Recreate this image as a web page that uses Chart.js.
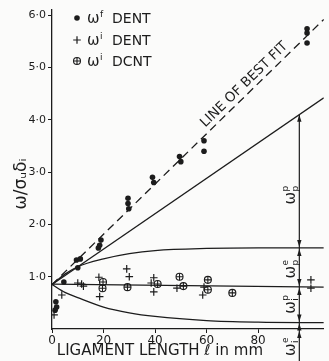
<!DOCTYPE html>
<html lang="en">
<head>
<meta charset="UTF-8" />
<title>Work of fracture against ligament length</title>
<script src="https://cdn.jsdelivr.net/npm/chart.js"></script>
<style>
  body { margin: 0; background: #fbfbfa; }
  canvas { display: block; }
</style>
</head>
<body>
<canvas id="fig" width="329" height="361"></canvas>
<script>
const ink = "#1c1c1c";
const fontFamily = '"DejaVu Sans", "Liberation Sans", sans-serif';

const xTicks = [0, 20, 40, 60, 80];
const yTicks = [1, 2, 3, 4, 5, 6];

// w^f DENT (solid dots)
const wfDentX = [1.5, 1.8, 1.2, 4.6, 9.5, 11, 10, 19, 18.5, 18, 29.5, 29.5, 29.8, 39, 39.5, 49.5, 50, 59, 59, 99, 99, 99];
const wfDentY = [0.52, 0.42, 0.36, 0.9, 1.32, 1.34, 1.17, 1.7, 1.6, 1.55, 2.5, 2.4, 2.3, 2.9, 2.8, 3.3, 3.2, 3.6, 3.4, 5.74, 5.66, 5.47];

// w^i DENT (plus)
const wiDentX = [0.8, 3.8, 10, 11.5, 12.2, 18.2, 18.5, 29, 30, 39.5, 38.5, 39.5, 48.5, 59, 58.5, 100.5, 100.5];
const wiDentY = [0.27, 0.65, 0.88, 0.86, 0.82, 0.99, 0.62, 1.15, 1.0, 0.98, 0.88, 0.71, 0.78, 0.8, 0.65, 0.94, 0.78];

// w^i DCNT (circle with cross)
const wiDcntX = [19.8, 19.6, 29.3, 41, 49.5, 51, 60.5, 60.5, 70];
const wiDcntY = [0.9, 0.78, 0.8, 0.86, 1.0, 0.82, 0.94, 0.75, 0.69];

// drawn lines
const bestFitX = [0, 105.5];
const bestFitY = [0.85, 5.92];
const upperLineX = [0, 105.5];
const upperLineY = [0.85, 4.42];
const curveX = [0, 5, 10, 20, 30, 40, 60, 80, 105.5];
const plateauY = [0.85, 1.05, 1.19, 1.34, 1.44, 1.5, 1.54, 1.55, 1.55];
const lowerY = [0.85, 0.7, 0.6, 0.42, 0.31, 0.24, 0.16, 0.13, 0.12];
const midLineX = [0, 105.5];
const midLineY = [0.86, 0.8];

const bracketX = 96;
const bracketLabels = [["p", "p"], ["e", "p"], ["p", "i"], ["e", "i"]];

function pts(xs, ys) {
  return xs.map((x, i) => ({ x: x, y: ys[i] }));
}

function interp(xs, ys, x) {
  for (let i = 1; i < xs.length; i++) {
    if (x <= xs[i]) {
      const t = (x - xs[i - 1]) / (xs[i] - xs[i - 1]);
      return ys[i - 1] + t * (ys[i] - ys[i - 1]);
    }
  }
  return ys[ys.length - 1];
}

function lineSet(xs, ys, dash, smooth) {
  return {
    data: pts(xs, ys),
    showLine: true,
    borderColor: ink,
    borderWidth: 1.3,
    borderDash: dash || [],
    pointRadius: 0,
    tension: smooth ? 0.4 : 0,
    cubicInterpolationMode: smooth ? "monotone" : "default"
  };
}

// omega with super/subscript, optionally turned to read upwards
function drawOmega(ctx, x, y, sup, sub, size, upright) {
  ctx.save();
  ctx.translate(x, y);
  if (!upright) ctx.rotate(-Math.PI / 2);
  ctx.fillStyle = ink;
  ctx.textBaseline = "alphabetic";
  ctx.textAlign = "left";
  ctx.font = size + "px " + fontFamily;
  const w = ctx.measureText("ω").width;
  const small = Math.round(size * 0.62);
  ctx.font = small + "px " + fontFamily;
  const sw = Math.max(ctx.measureText(sup).width, ctx.measureText(sub || "").width);
  const x0 = upright ? 0 : -(w + sw) / 2;
  const base = size * 0.35;
  ctx.font = size + "px " + fontFamily;
  ctx.fillText("ω", x0, base);
  ctx.font = small + "px " + fontFamily;
  ctx.fillText(sup, x0 + w + 0.5, base - size * 0.42);
  if (sub) ctx.fillText(sub, x0 + w + 0.5, base + size * 0.22);
  ctx.restore();
}

function arrowHead(ctx, x, y, dir) {
  // dir = -1 points up, +1 points down; tip at (x, y)
  ctx.beginPath();
  ctx.moveTo(x, y);
  ctx.lineTo(x - 2.2, y - dir * 7);
  ctx.lineTo(x + 2.2, y - dir * 7);
  ctx.closePath();
  ctx.fill();
}

const annotations = {
  id: "annotations",
  afterDatasetsDraw(chart) {
    const { ctx, chartArea, scales } = chart;
    const xs = scales.x, ys = scales.y;
    ctx.save();
    ctx.fillStyle = ink;
    ctx.strokeStyle = ink;

    // y axis title
    ctx.save();
    ctx.translate(22, 184);
    ctx.rotate(-Math.PI / 2);
    ctx.font = "17px " + fontFamily;
    ctx.textAlign = "center";
    ctx.textBaseline = "middle";
    ctx.fillText("ω/σᵤδᵢ", 0, 0);
    ctx.restore();

    // legend
    const lx = chartArea.left + 25;
    const rows = [chartArea.top + 8, chartArea.top + 30, chartArea.top + 51];
    ctx.beginPath();
    ctx.arc(lx, rows[0], 2.8, 0, Math.PI * 2);
    ctx.fill();
    ctx.lineWidth = 1.2;
    ctx.beginPath();
    ctx.moveTo(lx - 3.8, rows[1]); ctx.lineTo(lx + 3.8, rows[1]);
    ctx.moveTo(lx, rows[1] - 3.8); ctx.lineTo(lx, rows[1] + 3.8);
    ctx.stroke();
    ctx.lineWidth = 1.1;
    ctx.beginPath();
    ctx.arc(lx, rows[2], 3.5, 0, Math.PI * 2);
    ctx.moveTo(lx - 3.5, rows[2]); ctx.lineTo(lx + 3.5, rows[2]);
    ctx.moveTo(lx, rows[2] - 3.5); ctx.lineTo(lx, rows[2] + 3.5);
    ctx.stroke();
    const names = [["f", "DENT"], ["i", "DENT"], ["i", "DCNT"]];
    names.forEach((n, i) => {
      drawOmega(ctx, lx + 10, rows[i], n[0], null, 15, true);
      ctx.font = "14px " + fontFamily;
      ctx.textBaseline = "middle";
      ctx.textAlign = "left";
      ctx.fillText(n[1], lx + 35, rows[i] + 1);
    });

    // line of best fit label
    const p0 = { x: xs.getPixelForValue(bestFitX[0]), y: ys.getPixelForValue(bestFitY[0]) };
    const p1 = { x: xs.getPixelForValue(bestFitX[1]), y: ys.getPixelForValue(bestFitY[1]) };
    const ang = Math.atan2(p1.y - p0.y, p1.x - p0.x);
    const lxv = 77;
    ctx.save();
    ctx.translate(xs.getPixelForValue(lxv), ys.getPixelForValue(interp(bestFitX, bestFitY, lxv)));
    ctx.rotate(ang);
    ctx.font = "13.5px " + fontFamily;
    ctx.textAlign = "center";
    ctx.textBaseline = "bottom";
    ctx.fillText("LINE OF BEST FIT", 0, -2);
    ctx.restore();

    // bracket on the right
    const bx = xs.getPixelForValue(bracketX);
    const levels = [
      interp(upperLineX, upperLineY, bracketX),
      interp(curveX, plateauY, bracketX),
      interp(midLineX, midLineY, bracketX),
      interp(curveX, lowerY, bracketX),
      0
    ].map(v => ys.getPixelForValue(v));
    ctx.lineWidth = 1.2;
    ctx.beginPath();
    ctx.moveTo(bx, levels[0]);
    ctx.lineTo(bx, chart.height);
    ctx.stroke();
    arrowHead(ctx, bx, levels[0], -1);
    for (let i = 1; i < 4; i++) {
      arrowHead(ctx, bx, levels[i] - 1, 1);
      arrowHead(ctx, bx, levels[i] + 1, -1);
    }
    arrowHead(ctx, bx, levels[4] + 2, -1);
    const mids = [
      (levels[0] + levels[1]) / 2 + 14,
      (levels[1] + levels[2]) / 2 + 2,
      (levels[2] + levels[3]) / 2,
      levels[4] + 18
    ];
    bracketLabels.forEach((l, i) => drawOmega(ctx, bx - 10, mids[i], l[0], l[1], 15, false));
    ctx.restore();
  }
};

new Chart(document.getElementById("fig"), {
  type: "scatter",
  data: {
    datasets: [
      lineSet(bestFitX, bestFitY, [8, 5]),
      lineSet(upperLineX, upperLineY),
      lineSet(curveX, plateauY, null, true),
      lineSet(midLineX, midLineY),
      lineSet(curveX, lowerY, null, true),
      { label: "wf DENT", data: pts(wfDentX, wfDentY), pointStyle: "circle", pointRadius: 2.8, backgroundColor: ink, borderWidth: 0 },
      { label: "wi DENT", data: pts(wiDentX, wiDentY), pointStyle: "cross", pointRadius: 3.8, borderColor: ink, borderWidth: 1.2 },
      // circle-with-cross drawn as a ring plus a cross on the same points
      { label: "wi DCNT", data: pts(wiDcntX, wiDcntY), pointStyle: "circle", pointRadius: 3.5, borderColor: ink, backgroundColor: "rgba(0,0,0,0)", borderWidth: 1.1 },
      { label: "wi DCNT cross", data: pts(wiDcntX, wiDcntY), pointStyle: "cross", pointRadius: 3.5, borderColor: ink, borderWidth: 1.1 }
    ]
  },
  options: {
    responsive: false,
    animation: false,
    devicePixelRatio: 1,
    layout: { padding: { top: 10, right: 0, left: 0, bottom: 0 } },
    plugins: { legend: { display: false }, tooltip: { enabled: false } },
    scales: {
      x: {
        type: "linear",
        min: 0,
        max: 105.5,
        border: { color: ink, width: 1.3 },
        grid: { drawOnChartArea: false, tickLength: 4, color: ink },
        ticks: { color: ink, padding: 1, font: { family: fontFamily, size: 12 } },
        afterBuildTicks: s => { s.ticks = xTicks.map(v => ({ value: v })); },
        afterFit: s => { s.height = 32; },
        title: {
          display: true,
          text: " LIGAMENT LENGTH ℓ in mm",
          align: "start",
          color: ink,
          font: { family: fontFamily, size: 15 },
          padding: { top: 0, bottom: 1 }
        }
      },
      y: {
        min: 0,
        max: 6.1,
        border: { color: ink, width: 1.3 },
        grid: { drawOnChartArea: false, tickLength: 4, color: ink },
        ticks: {
          color: ink,
          padding: 2,
          font: { family: fontFamily, size: 11 },
          callback: v => v.toFixed(1).replace(".", "·")
        },
        afterBuildTicks: s => { s.ticks = yTicks.map(v => ({ value: v })); },
        afterFit: s => { s.width = 52; }
      }
    }
  },
  plugins: [annotations]
});
</script>
</body>
</html>
